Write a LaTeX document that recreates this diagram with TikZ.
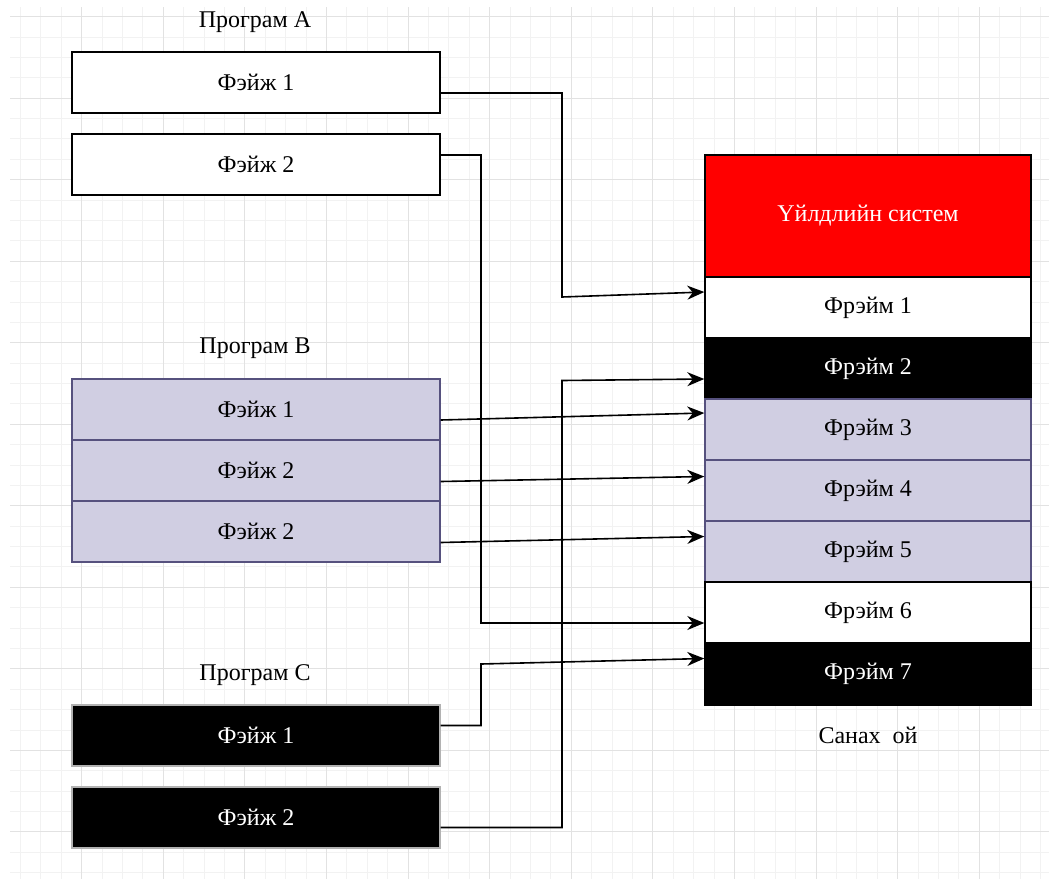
\documentclass[tikz,border=0pt]{standalone}
\usepackage{fontspec}
\setmainfont{Liberation Serif}
\usetikzlibrary{arrows.meta}
\definecolor{lav}{HTML}{D0CEE2}
\definecolor{lavb}{HTML}{56517E}
\definecolor{gmaj}{HTML}{E2E2E2}
\definecolor{gmin}{HTML}{F2F2F2}
\definecolor{osred}{HTML}{FF0000}
\begin{document}
\begin{tikzpicture}[x=1pt,y=-1pt,
  font=\fontsize{24}{28}\selectfont,
  box/.style={draw, minimum width=368pt, minimum height=61pt, inner sep=0pt, line width=1.4pt},
  whitebox/.style={box, fill=white},
  lavbox/.style={box, fill=lav, draw=lavb},
  blackbox/.style={box, fill=black, draw=gray!60, text=white},
  frame/.style={draw, minimum width=326pt, minimum height=61pt, inner sep=0pt, line width=1.4pt},
  wframe/.style={frame, fill=white},
  bframe/.style={frame, fill=black, text=white},
  lframe/.style={frame, fill=lav, draw=lavb},
  lbl/.style={inner sep=0pt},
  conn/.style={draw, line width=1.6pt, -{Stealth[length=17pt, width=14pt, inset=5.5pt]}}
]
\fill[white] (0,0) rectangle (1049,879);
\useasboundingbox (0,0) rectangle (1049,879);
% grid
\foreach \k in {-3,...,47} {
  \pgfmathsetmacro\xx{81.7+20.4*\k}
  \draw[gmin, line width=1pt] (\xx,7) -- (\xx,879);
}
\foreach \k in {0,...,42} {
  \pgfmathsetmacro\yy{16.7+20.38*\k}
  \draw[gmin, line width=1pt] (10,\yy) -- (1049,\yy);
}
\foreach \k in {0,...,11} {
  \pgfmathsetmacro\xx{81.7+81.6*\k}
  \draw[gmaj, line width=1pt] (\xx,7) -- (\xx,879);
}
\foreach \k in {0,...,10} {
  \pgfmathsetmacro\yy{16.7+81.52*\k}
  \draw[gmaj, line width=1pt] (10,\yy) -- (1049,\yy);
}
% Program A
\node[lbl] (pa) at (255,22) {Програм A};
\node[whitebox] (a1) at (256,82.5) {Фэйж 1};
\node[whitebox] (a2) at (256,164.5) {Фэйж 2};
% Program B
\node[lbl] (pb) at (255,348) {Програм B};
\node[lavbox] (b1) at (256,409.5) {Фэйж 1};
\node[lavbox] (b2) at (256,470.5) {Фэйж 2};
\node[lavbox] (b3) at (256,531.5) {Фэйж 2};
% Program C
\node[lbl] (pc) at (255,675) {Програм C};
\node[blackbox] (c1) at (256,735.5) {Фэйж 1};
\node[blackbox] (c2) at (256,817.5) {Фэйж 2};
% Memory
\node[frame, fill=osred, text=white, minimum height=122pt] (os) at (868,216) {Үйлдлийн систем};
\node[wframe] (f1) at (868,307.5) {Фрэйм 1};
\node[bframe] (f2) at (868,368.5) {Фрэйм 2};
\node[lframe] (f3) at (868,429.5) {Фрэйм 3};
\node[lframe] (f4) at (868,490.5) {Фрэйм 4};
\node[lframe] (f5) at (868,551.5) {Фрэйм 5};
\node[wframe] (f6) at (868,612.5) {Фрэйм 6};
\node[bframe, minimum height=62pt] (f7) at (868,674) {Фрэйм 7};
\node[lbl] (mem) at (868,735) {Санах\ \ ой};
% connectors
\draw[conn] ([yshift=-10.5pt]a1.east) -- (562,93) -- (562,297) -- ([yshift=15.5pt]f1.west);
\draw[conn] ([yshift=9.5pt]a2.east) -- (481,155) -- (481,623) -- ([yshift=-10.5pt]f6.west);
\draw[conn] ([yshift=-10.5pt]b1.east) -- ([yshift=16.5pt]f3.west);
\draw[conn] ([yshift=-11pt]b2.east) -- ([yshift=14pt]f4.west);
\draw[conn] ([yshift=-11pt]b3.east) -- ([yshift=15pt]f5.west);
\draw[conn] ([yshift=10pt]c1.east) -- (481,725.5) -- (481,664) -- ([yshift=15.5pt]f7.west);
\draw[conn] ([yshift=-10pt]c2.east) -- (562,827.5) -- (562,380.5) -- ([yshift=-10.5pt]f2.west);
\end{tikzpicture}
\end{document}
